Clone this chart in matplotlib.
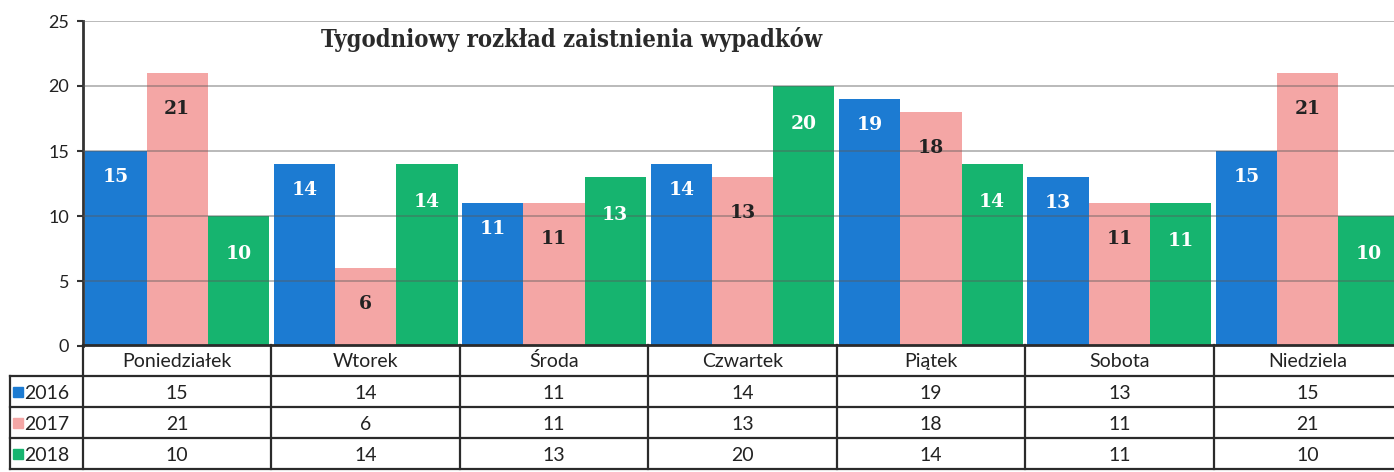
import numpy as np
import matplotlib
matplotlib.use("Agg")
import matplotlib.pyplot as plt

# weekday accident counts per year
days = ['Poniedziałek', 'Wtorek', 'Środa', 'Czwartek', 'Piątek', 'Sobota', 'Niedziela']
years = ['2016', '2017', '2018']
v2016 = [15, 14, 11, 14, 19, 13, 15]
v2017 = [21, 6, 11, 13, 18, 11, 21]
v2018 = [10, 14, 13, 20, 14, 11, 10]
yticks = [0, 5, 10, 15, 20, 25]

title = 'Tygodniowy rozkład zaistnienia wypadków'

colors = ['#1C7BD2', '#F4A6A5', '#16B46F']
label_colors = ['white', '#222222', 'white']
label_drop = [2.0, 2.8, 2.9]   # how far below the bar top the value sits

W, H = 1394, 472
fig = plt.figure(figsize=(W / 100, H / 100), dpi=100)

# main plot area (right edge runs a bit past the picture, as in the scan)
x0, x1 = 83, 1402
ax = fig.add_axes([x0 / W, 1 - 346 / H, (x1 - x0) / W, (346 - 21) / H])

series = [v2016, v2017, v2018]
n = len(days)
x = np.arange(n) + 0.5
bw = 0.325
for i, vals in enumerate(series):
    xs = x + (i - 1) * bw
    ax.bar(xs, vals, width=bw, color=colors[i], zorder=2, linewidth=0)
    for xx, v in zip(xs, vals):
        ax.text(xx, v - label_drop[i], str(v), ha='center', va='center',
                color=label_colors[i], fontsize=13.5, fontweight='bold',
                family='DejaVu Serif', zorder=4)

ax.set_xlim(0, n)
ax.set_ylim(0, 25)
ax.set_yticks(yticks)
ax.set_xticks([])
for t in yticks[1:]:
    ax.axhline(t, color='#5a5a5a', alpha=0.45, lw=1.3, zorder=3)
for s in ['top', 'right', 'bottom']:
    ax.spines[s].set_visible(False)
ax.spines['left'].set_color('#333333')
ax.spines['left'].set_linewidth(2)
ax.tick_params(axis='y', length=4, width=1.5, color='#333333', pad=6,
               labelsize=13, labelcolor='#222222')
for lab in ax.get_yticklabels():
    lab.set_family('Lato')

fig.text(572 / W, 1 - 40 / H, title, ha='center', va='center', fontsize=17,
         fontweight='bold', family='DejaVu Serif', fontstretch='condensed',
         color='#2a2a2a')

# data table below the chart
tx0 = 10
left_x = (tx0 - x0) / ((x1 - x0) / n)
tax = fig.add_axes([tx0 / W, 1 - 469 / H, (x1 - tx0) / W, (469 - 345) / H])
tax.set_xlim(left_x, n)
tax.set_ylim(4, 0)
tax.axis('off')

lc = '#2b2b2b'
tax.plot([0, n], [0, 0], color=lc, lw=2, clip_on=False)
for r in range(1, 5):
    tax.plot([left_x, n], [r, r], color=lc, lw=1.6, clip_on=False)
for c in range(0, n + 1):
    tax.plot([c, c], [0, 4], color=lc, lw=1.6, clip_on=False)
tax.plot([left_x, left_x], [1, 4], color=lc, lw=1.6, clip_on=False)

for j, d in enumerate(days):
    tax.text(j + 0.5, 0.52, d, ha='center', va='center', fontsize=14,
             family='Lato', color='#222222')
    for i, vals in enumerate(series):
        tax.text(j + 0.5, i + 1.55, str(vals[j]), ha='center', va='center',
                 fontsize=14, family='Lato', color='#222222')

key_x = (18 - x0) / ((x1 - x0) / n)
txt_x = (24 - x0) / ((x1 - x0) / n)
for i, y in enumerate(years):
    tax.plot([key_x], [i + 1.5], marker='s', markersize=6.5, color=colors[i],
             linestyle='none', clip_on=False)
    tax.text(txt_x, i + 1.55, y, ha='left', va='center', fontsize=14,
             family='Lato', color='#222222')

fig.savefig('out.png', dpi=100)
